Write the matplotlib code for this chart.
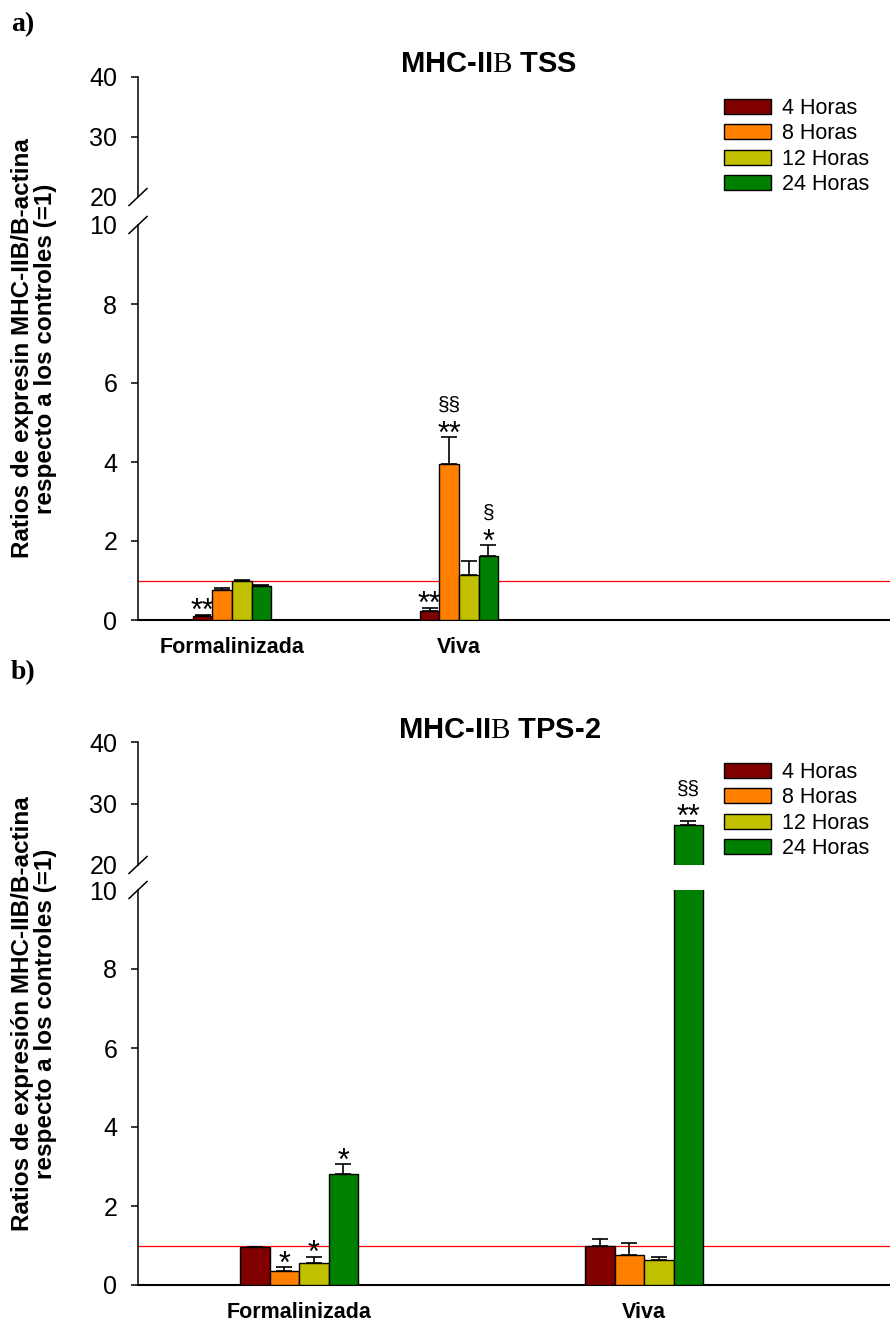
import matplotlib
matplotlib.use("Agg")
import matplotlib.pyplot as plt
from matplotlib.patches import Patch
from matplotlib.lines import Line2D
import numpy as np

plt.rcParams['font.family'] = ['Liberation Sans', 'DejaVu Sans']
plt.rcParams['mathtext.fontset'] = 'custom'
plt.rcParams['mathtext.rm'] = 'Liberation Serif'

groups = ['Formalinizada', 'Viva']
series = ['4 Horas', '8 Horas', '12 Horas', '24 Horas']
colors = ['#800000', '#FF8000', '#C0C000', '#008000']

# panel a: MHC-IIB TSS  (mean, upper SEM), one list per group
tss_form = [0.11, 0.75, 0.98, 0.85]
tss_form_err = [0.025, 0.06, 0.03, 0.03]
tss_viva = [0.24, 3.95, 1.13, 1.62]
tss_viva_err = [0.07, 0.68, 0.37, 0.28]
# (group, series, stars, section marks)
tss_marks = [(0, 0, '**', ''), (1, 0, '**', ''), (1, 1, '**', '§§'), (1, 3, '*', '§')]

# panel b: MHC-IIB TPS-2
tps_form = [0.95, 0.36, 0.55, 2.81]
tps_form_err = [0.02, 0.09, 0.17, 0.25]
tps_viva = [0.99, 0.75, 0.63, 26.5]
tps_viva_err = [0.18, 0.32, 0.09, 0.7]
tps_marks = [(0, 1, '*', ''), (0, 2, '*', ''), (0, 3, '*', ''), (1, 3, '**', '§§')]

W, H = 890, 1326
fig = plt.figure(figsize=(W / 100, H / 100), dpi=100)


def fx(px):
    return px / W


def fy(py):
    return 1 - py / H


def panel(top_px, brk_hi, brk_lo, bot_px, xlim, width, form, form_err, viva, viva_err,
          marks, title, title_x, title_y, ylabel, leg_top):
    x0 = 138
    ax_up = fig.add_axes([fx(x0), fy(brk_hi), 1 - fx(x0), (brk_hi - top_px) / H])
    ax_lo = fig.add_axes([fx(x0), fy(bot_px), 1 - fx(x0), (bot_px - brk_lo) / H])
    means = np.array([form, viva])
    errs = np.array([form_err, viva_err])
    x = np.arange(len(groups))
    for ax in (ax_up, ax_lo):
        for i in range(len(series)):
            ax.bar(x + (i - 1.5) * width, means[:, i], width, color=colors[i],
                   edgecolor='black', linewidth=1.0, zorder=3,
                   yerr=[np.zeros(len(groups)), errs[:, i]],
                   error_kw=dict(ecolor='black', elinewidth=1.2, capsize=6, capthick=1.2))
        ax.set_xlim(*xlim)
        for s in ('top', 'right'):
            ax.spines[s].set_visible(False)
        ax.spines['left'].set_linewidth(1.1)
        ax.tick_params(axis='y', length=5, width=1.1, pad=10, labelsize=18)
        ax.tick_params(axis='x', length=0)
    ax_up.set_ylim(20, 40)
    ax_up.set_yticks([20, 30, 40])
    ax_up.yaxis.get_major_ticks()[0].tick1line.set_visible(False)
    ax_up.spines['bottom'].set_visible(False)
    ax_up.set_xticks([])
    ax_lo.set_ylim(0, 10)
    ax_lo.set_yticks([0, 2, 4, 6, 8, 10])
    ax_lo.yaxis.get_major_ticks()[-1].tick1line.set_visible(False)
    ax_lo.spines['bottom'].set_linewidth(1.5)
    ax_lo.set_xticks(x)
    ax_lo.set_xticklabels(groups, fontsize=15.5, fontweight='bold')
    ax_lo.tick_params(axis='x', pad=12)
    ax_lo.axhline(1.0, color='red', linewidth=0.9, zorder=2)

    for g, i, st, sec in marks:
        xx = x[g] + (i - 1.5) * width
        top = means[g, i] + errs[g, i]
        ax = ax_up if top > 10 else ax_lo
        ax.annotate(st, (xx, top), xytext=(0, -4), textcoords='offset points',
                    ha='center', va='baseline', fontsize=22)
        if sec:
            ax.annotate(sec, (xx, top), xytext=(0, 19), textcoords='offset points',
                        ha='center', va='baseline', fontsize=15)

    # break marks on the y axis
    for yb in (brk_hi, brk_lo):
        fig.add_artist(Line2D([fx(x0 - 9), fx(x0 + 9)], [fy(yb + 8.5), fy(yb - 8.5)],
                              color='black', linewidth=1.1))

    fig.text(fx(title_x), fy(title_y), title, ha='center', va='center',
             fontsize=21, fontweight='bold')
    fig.text(fx(34), fy((top_px + bot_px) / 2), ylabel, rotation=90, ha='center',
             va='center', fontsize=17.5, fontweight='bold', multialignment='center',
             linespacing=1.05)
    handles = [Patch(facecolor=c, edgecolor='black', linewidth=1.0) for c in colors]
    ax_up.legend(handles, series, loc='upper left', bbox_to_anchor=(fx(724), fy(leg_top)),
                 bbox_transform=fig.transFigure, frameon=False, fontsize=15.5,
                 borderpad=0, borderaxespad=0, handlelength=2.2, handleheight=0.7,
                 handletextpad=0.5, labelspacing=0.2)
    return ax_up, ax_lo


panel(77, 197, 225, 620, (-0.414, 2.899), 0.0863, tss_form, tss_form_err,
      tss_viva, tss_viva_err, tss_marks, 'MHC-II$\\mathrm{B}$ TSS', 489, 64,
      'Ratios de expresin MHC-IIB/B-actina\nrespecto a los controles (=1)', 98)
panel(742, 865, 890, 1285, (-0.467, 1.713), 0.0855, tps_form, tps_form_err,
      tps_viva, tps_viva_err, tps_marks, 'MHC-II$\\mathrm{B}$ TPS-2', 500, 730,
      'Ratios de expresión MHC-IIB/B-actina\nrespecto a los controles (=1)', 762)

fig.text(fx(11), fy(31), 'a)', fontsize=20, fontweight='bold', family='Liberation Serif')
fig.text(fx(11), fy(679), 'b)', fontsize=20, fontweight='bold', family='Liberation Serif')

fig.savefig('out.png', dpi=100)
